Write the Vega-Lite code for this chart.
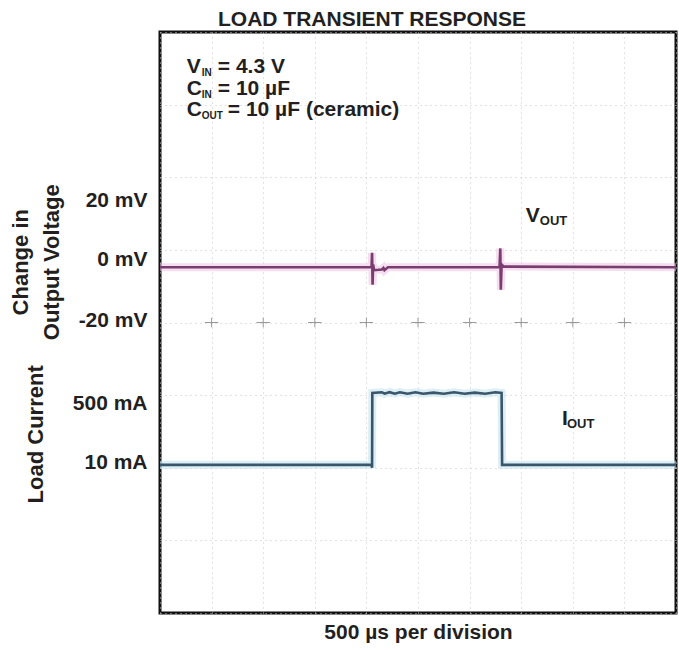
{
  "$schema": "https://vega.github.io/schema/vega-lite/v6.json",
  "width": 516,
  "height": 581,
  "autosize": {"type": "none"},
  "padding": {"left": 160, "top": 32, "right": 3, "bottom": 37},
  "background": "white",
  "title": {
    "text": "LOAD TRANSIENT RESPONSE",
    "anchor": "start",
    "frame": "group",
    "dx": 58,
    "dy": 17,
    "offset": 8,
    "fontSize": 21,
    "fontWeight": "bold",
    "font": "Liberation Sans",
    "color": "#231f20"
  },
  "config": {
    "view": {"stroke": "#111111", "strokeWidth": 3},
    "text": {"font": "Liberation Sans", "fontWeight": "bold", "color": "#231f20"}
  },
  "datasets": {
    "vout": [
      {"i": 0, "x": 0, "y": 4.76},
      {"i": 1, "x": 4.1, "y": 4.76},
      {"i": 2, "x": 4.11, "y": 4.96},
      {"i": 3, "x": 4.12, "y": 4.52},
      {"i": 4, "x": 4.13, "y": 4.8},
      {"i": 5, "x": 4.15, "y": 4.72},
      {"i": 6, "x": 4.3, "y": 4.73},
      {"i": 7, "x": 4.33, "y": 4.75},
      {"i": 8, "x": 4.35, "y": 4.72},
      {"i": 9, "x": 4.4, "y": 4.75},
      {"i": 10, "x": 4.42, "y": 4.76},
      {"i": 11, "x": 6.58, "y": 4.76},
      {"i": 12, "x": 6.595, "y": 5.02},
      {"i": 13, "x": 6.605, "y": 4.45},
      {"i": 14, "x": 6.62, "y": 4.8},
      {"i": 15, "x": 6.66, "y": 4.77},
      {"i": 16, "x": 10, "y": 4.76}
    ],
    "iout": [
      {"i": 0, "x": 0, "y": 2.04},
      {"i": 1, "x": 4.1, "y": 2.04},
      {"i": 2, "x": 4.11, "y": 2.0},
      {"i": 3, "x": 4.115, "y": 3.03},
      {"i": 4, "x": 4.3, "y": 3.04},
      {"i": 5, "x": 4.35, "y": 3.02},
      {"i": 6, "x": 4.45, "y": 3.04},
      {"i": 7, "x": 4.55, "y": 3.02},
      {"i": 8, "x": 4.65, "y": 3.04},
      {"i": 9, "x": 4.8, "y": 3.02},
      {"i": 10, "x": 4.95, "y": 3.04},
      {"i": 11, "x": 5.1, "y": 3.02},
      {"i": 12, "x": 5.3, "y": 3.035},
      {"i": 13, "x": 5.5, "y": 3.02},
      {"i": 14, "x": 5.7, "y": 3.04},
      {"i": 15, "x": 5.9, "y": 3.02},
      {"i": 16, "x": 6.1, "y": 3.035},
      {"i": 17, "x": 6.3, "y": 3.02},
      {"i": 18, "x": 6.5, "y": 3.04},
      {"i": 19, "x": 6.62, "y": 3.03},
      {"i": 20, "x": 6.63, "y": 2.04},
      {"i": 21, "x": 10, "y": 2.04}
    ],
    "crosses": [
      {"x": 1, "y": 4}, {"x": 2, "y": 4}, {"x": 3, "y": 4}, {"x": 4, "y": 4},
      {"x": 5, "y": 4}, {"x": 6, "y": 4}, {"x": 7, "y": 4}, {"x": 8, "y": 4},
      {"x": 9, "y": 4}
    ],
    "params": [
      {"main": "V", "sub": "IN", "rest": "= 4.3 V", "x": 0.52, "y": 7.435},
      {"main": "C", "sub": "IN", "rest": "= 10 µF", "x": 0.52, "y": 7.139},
      {"main": "C", "sub": "OUT", "rest": "= 10 µF (ceramic)", "x": 0.52, "y": 6.843}
    ],
    "signals": [
      {"main": "V", "sub": "OUT", "x": 7.09, "y": 5.384},
      {"main": "I", "sub": "OUT", "x": 7.79, "y": 2.589}
    ],
    "ytitles": [
      {"t": "Change in", "x": -2.56, "y": 4.83},
      {"t": "Output Voltage", "x": -1.95, "y": 4.83},
      {"t": "Load Current", "x": -2.26, "y": 2.46}
    ]
  },
  "layer": [
    {
      "data": {"name": "vout"},
      "mark": {"type": "line", "color": "#ecc3e3", "strokeWidth": 8, "opacity": 0.55},
      "encoding": {
        "x": {
          "field": "x", "type": "quantitative",
          "scale": {"domain": [0, 10], "nice": false, "zero": false},
          "axis": {
            "values": [0, 1, 2, 3, 4, 5, 6, 7, 8, 9, 10],
            "grid": true, "labels": false, "ticks": false, "domain": false,
            "gridColor": "#c4c4c4", "gridDash": [1, 4], "gridWidth": 1,
            "title": "500 µs per division",
            "titleFont": "Liberation Sans", "titleFontSize": 21, "titleFontWeight": "bold",
            "titleColor": "#231f20", "titlePadding": 8
          }
        },
        "y": {
          "field": "y", "type": "quantitative",
          "scale": {"domain": [0, 8], "nice": false, "zero": false},
          "axis": {
            "values": [0, 1, 2, 2.079, 2.878, 3, 4, 4.034, 4.874, 5, 5.673, 6, 7, 8],
            "labelExpr": "datum.value == 5.673 ? '20 mV' : datum.value == 4.874 ? '0 mV' : datum.value == 4.034 ? '-20 mV' : datum.value == 2.878 ? '500 mA' : datum.value == 2.079 ? '10 mA' : ''",
            "labelOverlap": false, "labelBound": false, "labelFlush": false,
            "grid": true,
            "gridOpacity": {"condition": {"test": "datum.value % 1 == 0", "value": 1}, "value": 0},
            "gridColor": "#c4c4c4", "gridDash": [1, 4], "gridWidth": 1,
            "ticks": false, "domain": false, "title": null,
            "labelFont": "Liberation Sans", "labelFontSize": 21, "labelFontWeight": "bold",
            "labelColor": "#231f20", "labelPadding": 13
          }
        },
        "order": {"field": "i", "type": "quantitative"}
      }
    },
    {
      "mark": {"type": "rule", "color": "#8c8c8c", "strokeDash": [1, 2], "strokeWidth": 1},
      "encoding": {"x": {"datum": 5, "scale": {"domain": [0, 10]}}}
    },
    {
      "mark": {"type": "rule", "color": "#9a9a9a", "strokeDash": [3, 3], "strokeWidth": 1},
      "encoding": {"y": {"datum": 4, "scale": {"domain": [0, 8]}}}
    },
    {
      "data": {"name": "crosses"},
      "mark": {"type": "point", "shape": "M-1,0H1M0,-0.7V0.7", "filled": false, "color": "#8f8f8f", "strokeWidth": 1, "size": 180, "opacity": 0.9},
      "encoding": {
        "x": {"field": "x", "type": "quantitative", "scale": {"domain": [0, 10]}},
        "y": {"field": "y", "type": "quantitative", "scale": {"domain": [0, 8]}}
      }
    },
    {
      "mark": {"type": "rule", "color": "#c8c08a", "strokeDash": [2, 3], "strokeWidth": 1.3},
      "encoding": {"y": {"datum": 3.03, "scale": {"domain": [0, 8]}}}
    },
    {
      "data": {"name": "iout"},
      "mark": {"type": "line", "color": "#c3e4ef", "strokeWidth": 8, "opacity": 0.6},
      "encoding": {
        "x": {"field": "x", "type": "quantitative", "scale": {"domain": [0, 10]}},
        "y": {"field": "y", "type": "quantitative", "scale": {"domain": [0, 8]}},
        "order": {"field": "i", "type": "quantitative"}
      }
    },
    {
      "data": {"name": "vout"},
      "mark": {"type": "line", "color": "#7a3d6f", "strokeWidth": 2.6},
      "encoding": {
        "x": {"field": "x", "type": "quantitative", "scale": {"domain": [0, 10]}},
        "y": {"field": "y", "type": "quantitative", "scale": {"domain": [0, 8]}},
        "order": {"field": "i", "type": "quantitative"}
      }
    },
    {
      "data": {"name": "iout"},
      "mark": {"type": "line", "color": "#3b556b", "strokeWidth": 2.6},
      "encoding": {
        "x": {"field": "x", "type": "quantitative", "scale": {"domain": [0, 10]}},
        "y": {"field": "y", "type": "quantitative", "scale": {"domain": [0, 8]}},
        "order": {"field": "i", "type": "quantitative"}
      }
    },
    {
      "mark": {"type": "point", "shape": "triangle-down", "filled": true, "color": "#d39b45", "size": 40},
      "encoding": {
        "x": {"datum": 4.11, "scale": {"domain": [0, 10]}},
        "y": {"datum": 7.87, "scale": {"domain": [0, 8]}}
      }
    },
    {
      "mark": {"type": "point", "shape": "triangle-left", "filled": true, "color": "#555555", "size": 18},
      "encoding": {
        "x": {"datum": 9.88, "scale": {"domain": [0, 10]}},
        "y": {"datum": 2.41, "scale": {"domain": [0, 8]}}
      }
    },
    {
      "data": {"name": "params"},
      "mark": {"type": "text", "align": "left", "baseline": "alphabetic", "fontSize": 21},
      "encoding": {
        "x": {"field": "x", "type": "quantitative", "scale": {"domain": [0, 10]}},
        "y": {"field": "y", "type": "quantitative", "scale": {"domain": [0, 8]}},
        "text": {"field": "main"}
      }
    },
    {
      "data": {"name": "params"},
      "mark": {"type": "text", "align": "left", "baseline": "alphabetic", "fontSize": 10, "dx": 15, "dy": 3},
      "encoding": {
        "x": {"field": "x", "type": "quantitative", "scale": {"domain": [0, 10]}},
        "y": {"field": "y", "type": "quantitative", "scale": {"domain": [0, 8]}},
        "text": {"field": "sub"}
      }
    },
    {
      "data": {"name": "params"},
      "transform": [{"filter": "datum.sub == 'IN'"}],
      "mark": {"type": "text", "align": "left", "baseline": "alphabetic", "fontSize": 21, "dx": 31},
      "encoding": {
        "x": {"field": "x", "type": "quantitative", "scale": {"domain": [0, 10]}},
        "y": {"field": "y", "type": "quantitative", "scale": {"domain": [0, 8]}},
        "text": {"field": "rest"}
      }
    },
    {
      "data": {"name": "params"},
      "transform": [{"filter": "datum.sub == 'OUT'"}],
      "mark": {"type": "text", "align": "left", "baseline": "alphabetic", "fontSize": 21, "dx": 41},
      "encoding": {
        "x": {"field": "x", "type": "quantitative", "scale": {"domain": [0, 10]}},
        "y": {"field": "y", "type": "quantitative", "scale": {"domain": [0, 8]}},
        "text": {"field": "rest"}
      }
    },
    {
      "data": {"name": "signals"},
      "mark": {"type": "text", "align": "left", "baseline": "alphabetic", "fontSize": 21},
      "encoding": {
        "x": {"field": "x", "type": "quantitative", "scale": {"domain": [0, 10]}},
        "y": {"field": "y", "type": "quantitative", "scale": {"domain": [0, 8]}},
        "text": {"field": "main"}
      }
    },
    {
      "data": {"name": "signals"},
      "transform": [{"filter": "datum.main == 'V'"}],
      "mark": {"type": "text", "align": "left", "baseline": "alphabetic", "fontSize": 13, "dx": 14, "dy": 3},
      "encoding": {
        "x": {"field": "x", "type": "quantitative", "scale": {"domain": [0, 10]}},
        "y": {"field": "y", "type": "quantitative", "scale": {"domain": [0, 8]}},
        "text": {"field": "sub"}
      }
    },
    {
      "data": {"name": "signals"},
      "transform": [{"filter": "datum.main == 'I'"}],
      "mark": {"type": "text", "align": "left", "baseline": "alphabetic", "fontSize": 13, "dx": 5, "dy": 3},
      "encoding": {
        "x": {"field": "x", "type": "quantitative", "scale": {"domain": [0, 10]}},
        "y": {"field": "y", "type": "quantitative", "scale": {"domain": [0, 8]}},
        "text": {"field": "sub"}
      }
    },
    {
      "data": {"name": "ytitles"},
      "mark": {"type": "text", "align": "center", "baseline": "alphabetic", "fontSize": 22, "angle": 270},
      "encoding": {
        "x": {"field": "x", "type": "quantitative", "scale": {"domain": [0, 10]}},
        "y": {"field": "y", "type": "quantitative", "scale": {"domain": [0, 8]}},
        "text": {"field": "t"}
      }
    }
  ]
}
